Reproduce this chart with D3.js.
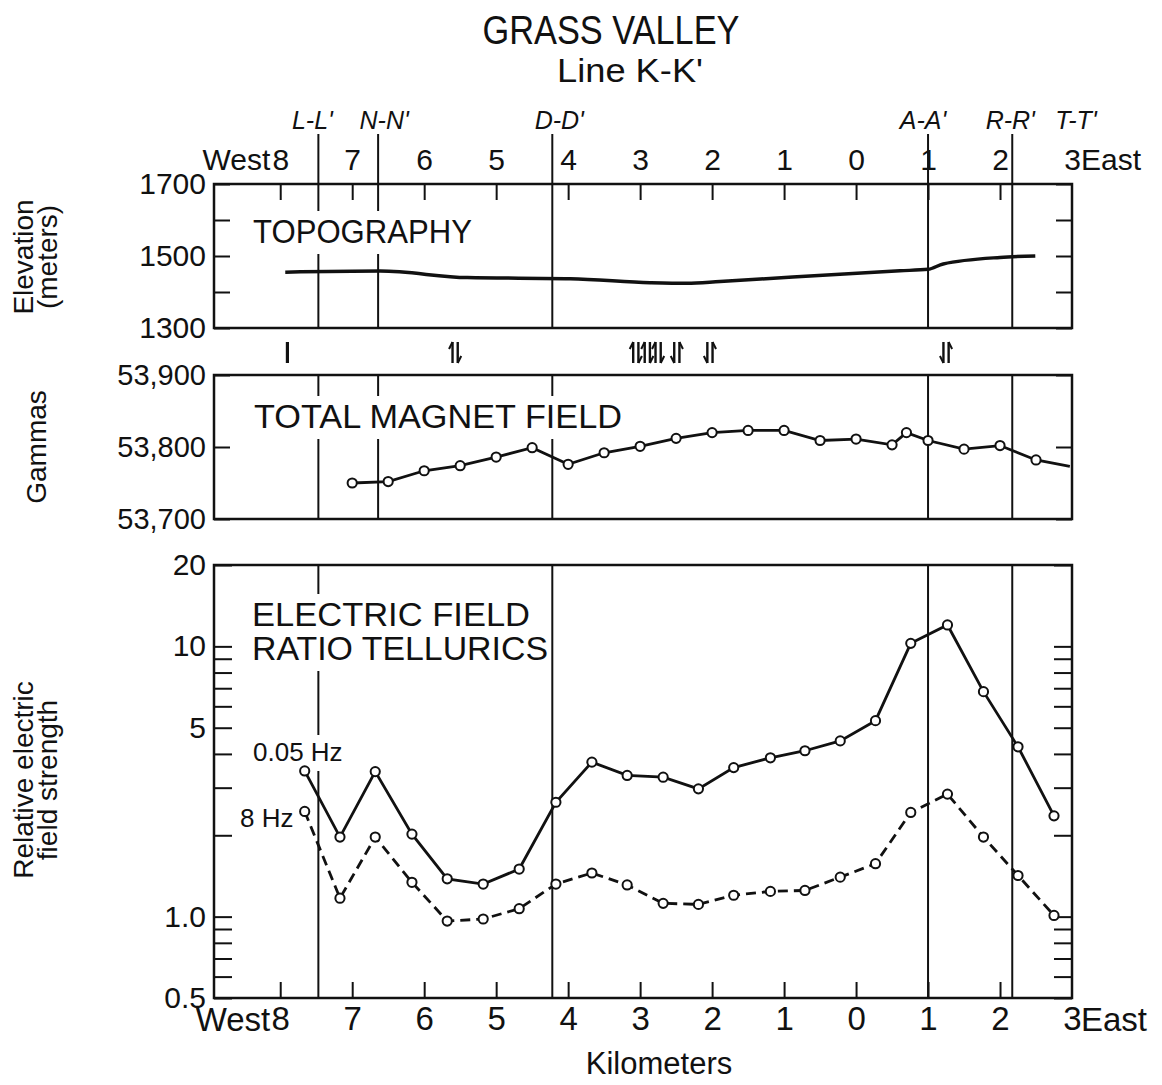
<!DOCTYPE html>
<html><head><meta charset="utf-8">
<script src="https://cdn.jsdelivr.net/npm/d3@7"></script>
<style>
body{margin:0;background:#fff;}
svg{display:block;background:#fff;}
</style></head><body>
<svg id="chart" width="1162" height="1085"></svg>
<script>
// ---------------- data ----------------
const kmTicks = [-8,-7,-6,-5,-4,-3,-2,-1,0,1,2,3];
const kmLabels = ["8","7","6","5","4","3","2","1","0","1","2","3"];

const sectionNames = ["L-L'","N-N'","D-D'","A-A'","R-R'","T-T'"];
const sectionKm = [-7.47,-6.64,-4.22,1.0,2.17,3.0];
const sectionPanels = [["topo","mag","elec"],["topo","mag"],["topo","mag","elec"],["topo","mag","elec"],["topo","mag","elec"],[]];

const topoKm =   [-7.93,-6.61,-5.40,-3.97,-2.86,-2.35,-1.89,-0.88,0.61,1.0,1.21,2.0,2.49];
const topoElev = [1455,1458,1440,1437,1426,1424,1429,1442,1459,1463,1478,1496,1500];
const elevTicks = [1300,1400,1500,1600,1700];
const elevLabels = ["1300","","1500","","1700"];

const faultKm = [-7.90,-5.57,-3.06,-2.90,-2.75,-2.49,-2.03,1.25];
const faultSense = ["bar","ud","ud","ud","ud","du","du","du"];

const magKm =     [-7,-6.5,-6,-5.5,-5,-4.5,-4,-3.5,-3,-2.5,-2,-1.5,-1,-0.5,0,0.5,0.7,1.0,1.5,2.0,2.5,2.97];
const magGammas = [53750,53752,53767,53774,53786,53799,53776,53792,53801,53812,53820,53823,53823,53809,53811,53803,53820,53809,53797,53802,53782,53773];
const magTicks = [53700,53800,53900];
const magLabels = ["53,700","53,800","53,900"];

const elecKm =  [-7.66,-7.17,-6.68,-6.17,-5.68,-5.18,-4.68,-4.17,-3.67,-3.18,-2.68,-2.19,-1.70,-1.19,-0.71,-0.22,0.27,0.76,1.27,1.77,2.25,2.75];
const elec005 = [3.46,1.97,3.44,2.02,1.38,1.32,1.50,2.65,3.73,3.33,3.28,2.97,3.56,3.87,4.11,4.47,5.31,10.26,12.0,6.80,4.25,2.36];
const elec8 =   [2.45,1.17,1.97,1.34,0.963,0.98,1.07,1.32,1.45,1.31,1.12,1.11,1.20,1.24,1.25,1.40,1.57,2.43,2.84,1.97,1.42,1.01];
const elecTicks = [0.5,0.6,0.7,0.8,0.9,1,2,3,4,5,6,7,8,9,10,20];
const elecLabels = ["0.5","","","","","1.0","","","","5","","","","","10","20"];

// ---------------- layout ----------------
const FONT = '"Liberation Sans", Arial, sans-serif';
const INK = "#111";
const svg = d3.select("#chart");
const x = d3.scaleLinear().domain([-8.92, 3]).range([214, 1072]);
const panels = {
  topo: {top:184, bottom:328},
  mag:  {top:375, bottom:519},
  elec: {top:565, bottom:998}
};
const yTopo = d3.scaleLinear().domain([1300,1700]).range([328,184]);
const yMag  = d3.scaleLinear().domain([53700,53900]).range([519,375]);
const yElec = d3.scaleLog().domain([0.5,20]).range([998,565]);
const sectionLabelShift = [-6, 6, 7, -5, -2, 4];

function styleAxis(g, fs){
  g.attr("font-family", FONT).attr("font-size", fs);
  g.select(".domain").remove();
  g.selectAll(".tick line").attr("stroke", INK).attr("stroke-width", 2);
  g.selectAll(".tick text").attr("fill", INK);
}

// ---------------- titles ----------------
svg.append("text").attr("x",611).attr("y",44).attr("text-anchor","middle")
  .attr("font-family",FONT).attr("font-size",40).attr("fill",INK)
  .attr("textLength",257).attr("lengthAdjust","spacingAndGlyphs").text("GRASS VALLEY");
svg.append("text").attr("x",630).attr("y",82).attr("text-anchor","middle")
  .attr("font-family",FONT).attr("font-size",34).attr("fill",INK)
  .attr("textLength",146).attr("lengthAdjust","spacingAndGlyphs").text("Line K-K'");

// ---------------- section lines ----------------
const secG = svg.append("g");
sectionKm.forEach((k,i)=>{
  const sx = x(k);
  if (sectionPanels[i].length){
    secG.append("line").attr("x1",sx).attr("x2",sx).attr("y1",134).attr("y2",184)
      .attr("stroke",INK).attr("stroke-width",2);
  }
  sectionPanels[i].forEach(p=>{
    secG.append("line").attr("x1",sx).attr("x2",sx)
      .attr("y1",panels[p].top).attr("y2",panels[p].bottom)
      .attr("stroke",INK).attr("stroke-width",2);
  });
  svg.append("text").attr("x",sx+sectionLabelShift[i]).attr("y",129).attr("text-anchor","middle")
    .attr("font-family",FONT).attr("font-style","italic").attr("font-size",25)
    .attr("fill",INK).text(sectionNames[i]);
});

// ---------------- frames ----------------
Object.values(panels).forEach(p=>{
  svg.append("rect").attr("x",214).attr("y",p.top).attr("width",1072-214)
    .attr("height",p.bottom-p.top).attr("fill","none")
    .attr("stroke",INK).attr("stroke-width",2.5);
});

// ---------------- axes ----------------
svg.append("g").attr("transform","translate(0,184)")
  .call(d3.axisTop(x).tickValues(kmTicks).tickSize(0).tickPadding(14)
    .tickFormat((d,i)=>kmLabels[i]))
  .call(g=>styleAxis(g,30));
svg.append("g").attr("transform","translate(0,184)")
  .call(d3.axisTop(x).tickValues(kmTicks.slice(0,-1)).tickSizeInner(-16).tickSizeOuter(0).tickFormat(""))
  .call(g=>styleAxis(g,30));
svg.append("text").attr("x",x(-8)-10).attr("y",170).attr("text-anchor","end")
  .attr("font-family",FONT).attr("font-size",30).attr("fill",INK).text("West");
svg.append("text").attr("x",x(3)+9).attr("y",170).attr("text-anchor","start")
  .attr("font-family",FONT).attr("font-size",30).attr("fill",INK).text("East");

svg.append("g").attr("transform","translate(0,998)")
  .call(d3.axisBottom(x).tickValues(kmTicks).tickSize(0).tickPadding(9)
    .tickFormat((d,i)=>kmLabels[i]))
  .call(g=>styleAxis(g,33));
svg.append("g").attr("transform","translate(0,998)")
  .call(d3.axisBottom(x).tickValues(kmTicks.slice(0,-1)).tickSizeInner(-16).tickSizeOuter(0).tickFormat(""))
  .call(g=>styleAxis(g,33));
svg.append("text").attr("x",x(-8)-10).attr("y",1031).attr("text-anchor","end")
  .attr("font-family",FONT).attr("font-size",33).attr("fill",INK).text("West");
svg.append("text").attr("x",x(3)+9).attr("y",1031).attr("text-anchor","start")
  .attr("font-family",FONT).attr("font-size",33).attr("fill",INK).text("East");
svg.append("text").attr("x",659).attr("y",1074).attr("text-anchor","middle")
  .attr("font-family",FONT).attr("font-size",31).attr("fill",INK).text("Kilometers");

svg.append("g").attr("transform","translate(214,0)")
  .call(d3.axisLeft(yTopo).tickValues(elevTicks).tickSizeInner(-16).tickSizeOuter(0).tickPadding(8)
    .tickFormat((d,i)=>elevLabels[i]))
  .call(g=>styleAxis(g,30));
svg.append("g").attr("transform","translate(1072,0)")
  .call(d3.axisRight(yTopo).tickValues(elevTicks).tickSizeInner(-16).tickSizeOuter(0).tickFormat(""))
  .call(g=>styleAxis(g,30));
svg.append("g").attr("transform","translate(214,0)")
  .call(d3.axisLeft(yMag).tickValues(magTicks).tickSizeInner(-16).tickSizeOuter(0).tickPadding(8)
    .tickFormat((d,i)=>magLabels[i]))
  .call(g=>styleAxis(g,29));
svg.append("g").attr("transform","translate(1072,0)")
  .call(d3.axisRight(yMag).tickValues(magTicks).tickSizeInner(-16).tickSizeOuter(0).tickFormat(""))
  .call(g=>styleAxis(g,29));
svg.append("g").attr("transform","translate(214,0)")
  .call(d3.axisLeft(yElec).tickValues(elecTicks).tickSizeInner(-18).tickSizeOuter(0).tickPadding(8)
    .tickFormat((d,i)=>elecLabels[i]))
  .call(g=>styleAxis(g,30));
svg.append("g").attr("transform","translate(1072,0)")
  .call(d3.axisRight(yElec).tickValues(elecTicks).tickSizeInner(-18).tickSizeOuter(0).tickFormat(""))
  .call(g=>styleAxis(g,30));

function vtitle(tx, ty, str){
  svg.append("text").attr("transform",`translate(${tx},${ty}) rotate(-90)`)
    .attr("text-anchor","middle").attr("font-family",FONT).attr("font-size",28)
    .attr("fill",INK).text(str);
}
vtitle(33,257,"Elevation");
vtitle(57,257,"(meters)");
vtitle(46,447,"Gammas");
vtitle(33,780,"Relative electric");
vtitle(57,780,"field strength");

// ---------------- labels with white backing ----------------
function backedLabel(lines, x0, y0, dy, fs, widths, pad){
  const g = svg.append("g");
  const bg = g.append("rect").attr("fill","#fff");
  lines.forEach((s,i)=>{
    const t = g.append("text").attr("x",x0).attr("y",y0+i*dy).attr("font-family",FONT)
      .attr("font-size",fs).attr("fill",INK).text(s);
    if (widths) t.attr("textLength",widths[i]).attr("lengthAdjust","spacingAndGlyphs");
  });
  const bb = g.node().getBBox();
  bg.attr("x",bb.x-pad).attr("y",bb.y-2).attr("width",bb.width+2*pad).attr("height",bb.height+6);
}
backedLabel(["TOPOGRAPHY"],253,243,0,33,[219],3);
backedLabel(["TOTAL MAGNET FIELD"],254,428,0,33,[368],3);
backedLabel(["ELECTRIC  FIELD","RATIO  TELLURICS"],252,626,34,33,[278,296],3);

// ---------------- faults ----------------
const fg = svg.append("g").attr("stroke",INK).attr("fill","none").attr("stroke-width",2.4);
faultKm.forEach((k,i)=>{
  const cx = x(k), y1 = 342, y2 = 363;
  if (faultSense[i]==="bar"){
    fg.append("line").attr("x1",cx).attr("x2",cx).attr("y1",y1).attr("y2",y2).attr("stroke-width",3.2);
    return;
  }
  const upLeft = faultSense[i]==="ud";
  [[cx-2.6, upLeft, -1],[cx+2.6, !upLeft, 1]].forEach(([lx, up, side])=>{
    fg.append("line").attr("x1",lx).attr("x2",lx).attr("y1",y1).attr("y2",y2);
    const tip = up ? y1 : y2;
    const back = up ? y1+7 : y2-7;
    fg.append("path").attr("d",`M${lx},${tip} L${lx+side*3.5},${back}`).attr("stroke-width",2);
  });
});

// ---------------- data lines ----------------
const topoLine = d3.line().x((d,i)=>x(topoKm[i])).y(d=>yTopo(d)).curve(d3.curveMonotoneX);
svg.append("path").datum(topoElev).attr("d",topoLine).attr("fill","none")
  .attr("stroke",INK).attr("stroke-width",3.5);

const magLine = d3.line().x((d,i)=>x(magKm[i])).y(d=>yMag(d));
svg.append("path").datum(magGammas).attr("d",magLine).attr("fill","none")
  .attr("stroke",INK).attr("stroke-width",2.8);
svg.append("g").selectAll("circle").data(magGammas.slice(0,-1)).join("circle")
  .attr("cx",(d,i)=>x(magKm[i])).attr("cy",d=>yMag(d)).attr("r",4.6)
  .attr("fill","#fff").attr("stroke",INK).attr("stroke-width",2);

backedLabel(["0.05 Hz"],253,761,0,26,null,1);
backedLabel(["8 Hz"],240,827,0,26,null,1);

const elecLine = d3.line().x((d,i)=>x(elecKm[i])).y(d=>yElec(d));
svg.append("path").datum(elec005).attr("d",elecLine).attr("fill","none")
  .attr("stroke",INK).attr("stroke-width",2.8);
svg.append("path").datum(elec8).attr("d",elecLine).attr("fill","none")
  .attr("stroke",INK).attr("stroke-width",2.8).attr("stroke-dasharray","10,6");
[elec005, elec8].forEach(arr=>{
  svg.append("g").selectAll("circle").data(arr).join("circle")
    .attr("cx",(d,i)=>x(elecKm[i])).attr("cy",d=>yElec(d)).attr("r",4.6)
    .attr("fill","#fff").attr("stroke",INK).attr("stroke-width",2);
});
</script>
</body></html>
